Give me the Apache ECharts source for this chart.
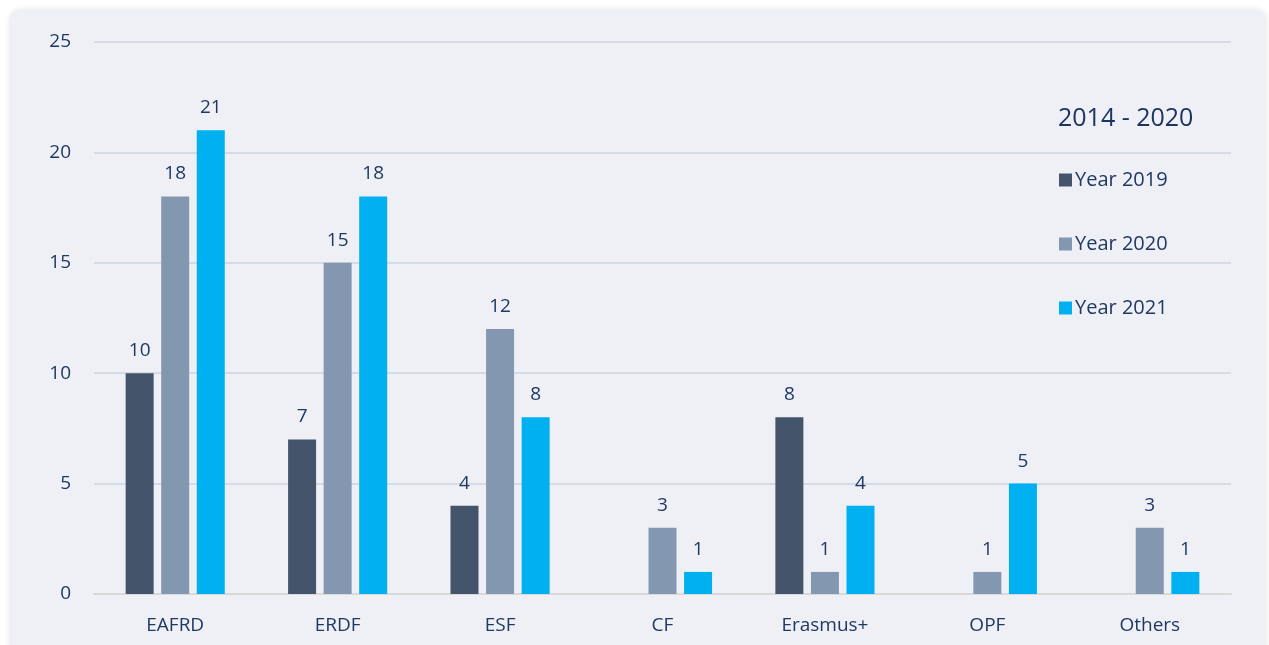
<!DOCTYPE html>
<html><head><meta charset="utf-8">
<script src="https://cdn.jsdelivr.net/npm/echarts@6/dist/echarts.min.js"></script>
<style>
html,body{margin:0;padding:0;background:#ffffff;width:1269px;height:645px;overflow:hidden;}
#panel{position:absolute;left:10px;top:10px;width:1256px;height:660px;background:#eff0f5;border-radius:10px;box-shadow:0 0 6px rgba(0,0,0,0.12);}
#chart{position:absolute;left:0;top:0;width:1269px;height:645px;}
</style></head>
<body>
<div id="panel"></div>
<div id="chart"></div>
<script>
const categories = ['EAFRD','ERDF','ESF','CF','Erasmus+','OPF','Others'];
const year2019 = [10, 7, 4, null, 8, null, null];
const year2020 = [18, 15, 12, 3, 1, 1, 3];
const year2021 = [21, 18, 8, 1, 4, 5, 1];
const seriesNames = ['Year 2019','Year 2020','Year 2021'];
const legendTitle = '2014 - 2020';

const textColor = '#1f3864';
const font = 'Open Sans';
const chart = echarts.init(document.getElementById('chart'), null, {renderer:'canvas'});
const label = {show:true, position:'top', distance:13, color:textColor, fontSize:19, fontFamily:font};
chart.setOption({
  backgroundColor:'transparent',
  animation:false,
  textStyle:{fontFamily:font},
  title:{text:legendTitle, left:1053, top:101, textStyle:{color:'#1c3461', fontSize:25, fontWeight:500, fontFamily:font}},
  legend:{
    data:seriesNames, orient:'vertical', left:1054, top:165, itemWidth:13, itemHeight:13, itemGap:44,
    icon:'rect', textStyle:{color:textColor, fontSize:20, fontFamily:font, padding:[0,0,0,-2]}
  },
  grid:{left:94, right:38, top:42, bottom:51, containLabel:false},
  xAxis:{
    type:'category', data:categories,
    axisLine:{lineStyle:{color:'#d9d9d9', width:2}},
    axisTick:{show:false},
    axisLabel:{color:textColor, fontSize:19, fontFamily:font, margin:22}
  },
  yAxis:{
    type:'value', min:0, max:25, interval:5,
    axisLine:{show:false}, axisTick:{show:false},
    axisLabel:{color:textColor, fontSize:19, fontFamily:font, margin:23},
    splitLine:{lineStyle:{color:'#d5dae4', width:2}}
  },
  series:[
    {name:seriesNames[0], type:'bar', data:year2019, barWidth:28, barGap:'27%', itemStyle:{color:'#44546a'}, label:label},
    {name:seriesNames[1], type:'bar', data:year2020, barWidth:28, barGap:'27%', itemStyle:{color:'#8497b0'}, label:label},
    {name:seriesNames[2], type:'bar', data:year2021, barWidth:28, barGap:'27%', itemStyle:{color:'#00b0f0'}, label:label}
  ]
});
</script>
</body></html>
